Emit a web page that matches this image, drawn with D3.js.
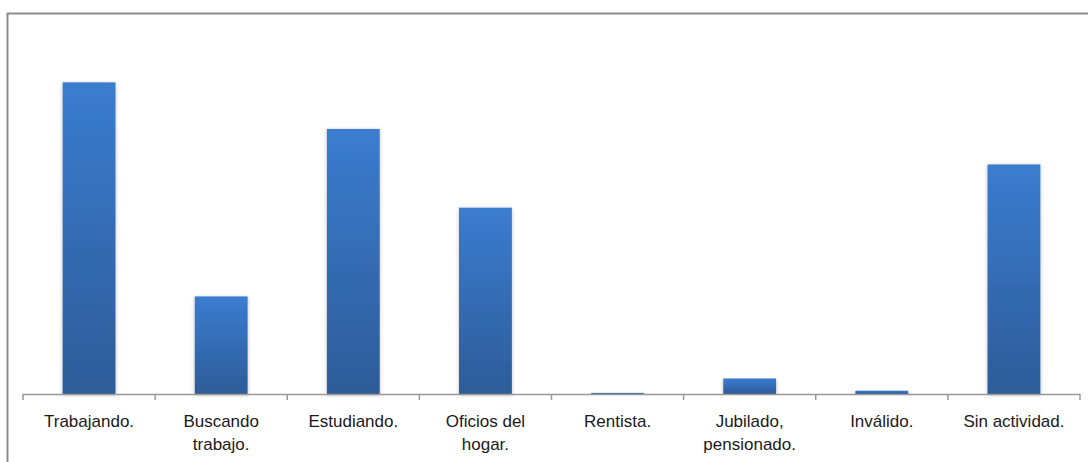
<!DOCTYPE html>
<html>
<head>
<meta charset="utf-8">
<script src="https://cdn.jsdelivr.net/npm/d3@7"></script>
<style>
  html, body { margin: 0; padding: 0; background: #fff; }
  svg { display: block; }
</style>
</head>
<body>
<div id="chart"></div>
<script>
// Distribución por actividad principal (%)
const categories = [
  "Trabajando.", "Buscando trabajo.", "Estudiando.", "Oficios del hogar.",
  "Rentista.", "Jubilado, pensionado.", "Inválido.", "Sin actividad."
];
const labelLines = [
  ["Trabajando."], ["Buscando", "trabajo."], ["Estudiando."], ["Oficios del", "hogar."],
  ["Rentista."], ["Jubilado,", "pensionado."], ["Inválido."], ["Sin actividad."]
];
const values = [28.1, 8.8, 23.9, 16.8, 0.1, 1.4, 0.3, 20.7];

const width = 1088, height = 462;
const svg = d3.select("#chart").append("svg")
  .attr("width", width).attr("height", height);

// outer chart frame
svg.append("rect")
  .attr("x", 7.5).attr("y", 13.5)
  .attr("width", width + 20).attr("height", height + 20)
  .attr("fill", "#fff")
  .attr("stroke", "#8c8c8c").attr("stroke-width", 2);

const defs = svg.append("defs");
const grad = defs.append("linearGradient")
  .attr("id", "barFill").attr("x1", 0).attr("y1", 0).attr("x2", 0).attr("y2", 1);
grad.append("stop").attr("offset", "0%").attr("stop-color", "#3b7ccf");
grad.append("stop").attr("offset", "100%").attr("stop-color", "#2d5c98");

const shadow = defs.append("filter").attr("id", "barShadow")
  .attr("x", "-20%").attr("y", "-5%").attr("width", "140%").attr("height", "110%");
shadow.append("feGaussianBlur").attr("in", "SourceAlpha").attr("stdDeviation", 2.2).attr("result", "b");
shadow.append("feOffset").attr("in", "b").attr("dx", 0).attr("dy", 1).attr("result", "o");
shadow.append("feComponentTransfer").attr("in", "o").attr("result", "s")
  .append("feFuncA").attr("type", "linear").attr("slope", 0.25);
const merge = shadow.append("feMerge");
merge.append("feMergeNode").attr("in", "s");
merge.append("feMergeNode").attr("in", "SourceGraphic");

const left = 23, right = 1080, baseline = 394;

const x = d3.scaleBand()
  .domain(categories)
  .range([left, right])
  .paddingInner(0.6).paddingOuter(0.3);

const y = d3.scaleLinear()
  .domain([0, 35])
  .range([baseline, baseline - 35 * 11.09]);

svg.append("g").selectAll("rect")
  .data(values)
  .join("rect")
  .attr("x", (d, i) => x(categories[i]))
  .attr("width", x.bandwidth())
  .attr("y", d => y(d))
  .attr("height", d => baseline - y(d))
  .attr("fill", "url(#barFill)")
  .attr("filter", "url(#barShadow)");

// category axis with boundary ticks
const step = (right - left) / categories.length;
const axis = svg.append("g");
axis.append("line")
  .attr("x1", left).attr("x2", right)
  .attr("y1", baseline + 0.5).attr("y2", baseline + 0.5)
  .attr("stroke", "#999").attr("stroke-width", 1.5);
axis.selectAll("line.tick")
  .data(d3.range(categories.length + 1))
  .join("line").attr("class", "tick")
  .attr("x1", i => left + i * step).attr("x2", i => left + i * step)
  .attr("y1", baseline).attr("y2", baseline + 6)
  .attr("stroke", "#999").attr("stroke-width", 1.5);

const labels = axis.selectAll("text")
  .data(categories)
  .join("text")
  .attr("x", d => x(d) + x.bandwidth() / 2)
  .attr("y", 427)
  .attr("text-anchor", "middle")
  .attr("font-family", "'Liberation Sans', Arial, sans-serif")
  .attr("font-size", 17)
  .attr("fill", "#1a1a1a");
labels.each(function(d, i) {
  const t = d3.select(this);
  labelLines[i].forEach((ln, k) => {
    t.append("tspan")
      .attr("x", x(d) + x.bandwidth() / 2)
      .attr("dy", k === 0 ? 0 : 23)
      .text(ln);
  });
});
</script>
</body>
</html>
